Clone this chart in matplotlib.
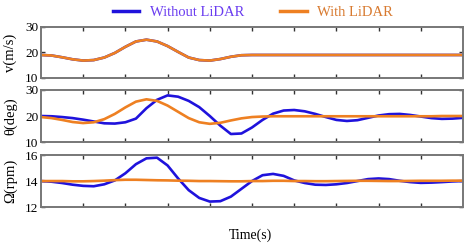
import matplotlib.pyplot as plt
import numpy as np

plt.rcParams['font.family'] = ['Liberation Serif', 'DejaVu Serif']

# time axis, sampled every 0.25 s
t = np.arange(0, 10.01, 0.25)

v_with = [19.0, 18.8, 18.1, 17.3, 16.8, 17.0, 18.0, 19.8, 22.2, 24.3, 25.0,
          24.3, 22.5, 20.2, 18.0, 17.0, 16.8, 17.4, 18.3, 18.9, 19.0,
          19.0, 19.0, 19.0, 19.0, 19.0, 19.0, 19.0, 19.0, 19.0, 19.0,
          19.0, 19.0, 19.0, 19.0, 19.0, 19.0, 19.0, 19.0, 19.0, 19.0]
v_without = v_with

theta_without = [20.0, 19.9, 19.6, 19.2, 18.6, 17.9, 17.2, 17.1, 17.6, 19.0, 23.0,
                 26.2, 27.9, 27.4, 25.8, 23.4, 20.0, 16.3, 13.1, 13.3, 15.6,
                 18.5, 20.9, 22.1, 22.3, 21.8, 20.8, 19.6, 18.5, 18.1, 18.4,
                 19.3, 20.2, 20.7, 20.8, 20.4, 19.8, 19.2, 18.9, 19.0, 19.3]
theta_with = [19.6, 19.2, 18.5, 17.7, 17.3, 17.6, 18.8, 20.8, 23.3, 25.5, 26.4,
              25.8, 24.0, 21.6, 19.2, 17.6, 17.0, 17.4, 18.3, 19.1, 19.6,
              19.8, 19.9, 19.9, 19.9, 19.9, 19.9, 19.9, 19.9, 19.9, 19.9,
              19.9, 19.9, 19.9, 19.9, 19.9, 19.9, 19.9, 20.0, 20.0, 20.0]

omega_without = [14.0, 13.95, 13.85, 13.72, 13.63, 13.6, 13.75, 14.05, 14.6, 15.3, 15.75,
                 15.8, 15.2, 14.2, 13.3, 12.7, 12.42, 12.45, 12.8, 13.4, 14.0,
                 14.45, 14.55, 14.4, 14.05, 13.85, 13.72, 13.7, 13.75, 13.85, 14.0,
                 14.15, 14.2, 14.15, 14.02, 13.92, 13.86, 13.88, 13.92, 13.97, 14.0]
omega_with = [14.0, 14.0, 14.0, 13.98, 13.98, 14.0, 14.03, 14.07, 14.1, 14.1, 14.08,
              14.06, 14.05, 14.03, 14.02, 14.0, 14.0, 13.99, 13.98, 13.98, 14.0,
              14.0, 14.02, 14.02, 14.0, 14.0, 13.99, 13.99, 14.0, 14.01, 14.02,
              14.02, 14.01, 14.0, 14.0, 14.01, 14.02, 14.02, 14.02, 14.03, 14.03]

panels = [
    ("v(m/s)", v_without, v_with, (10, 30), [10, 20, 30]),
    ("θ(deg)", theta_without, theta_with, (10, 30), [10, 20, 30]),
    ("Ω(rpm)", omega_without, omega_with, (12, 16), [12, 14, 16]),
]

blue = '#1f12dc'
orange = '#ee8022'

fig = plt.figure(figsize=(4.71, 2.45), dpi=100)
boxes = [(0.682, 0.890), (0.420, 0.633), (0.155, 0.367)]

for (label, y_wo, y_w, ylim, yt), (b, top) in zip(panels, boxes):
    ax = fig.add_axes([0.087, b, 0.896, top - b])
    ax.plot(t, y_wo, color=blue, lw=1.9)
    ax.plot(t, y_w, color=orange, lw=1.9)
    ax.set_xlim(0, 10)
    ax.set_ylim(*ylim)
    ax.set_xticks(np.arange(1, 10))
    ax.set_xticklabels([])
    ax.set_yticks(yt)
    ax.set_yticklabels([str(v) for v in yt], fontsize=9.5)
    ax.tick_params(direction='in', top=True, right=True, length=3,
                   width=1, color='#333333', pad=2)
    for s in ax.spines.values():
        s.set_color('#777777')
        s.set_linewidth(1.4)
    ax.set_ylabel(label, fontsize=10.5)
    ax.yaxis.set_label_coords(-0.057, 0.5)

handles = [plt.Line2D([], [], color=blue, lw=2.5),
           plt.Line2D([], [], color=orange, lw=2.5)]
fig.legend(handles, ["Without LiDAR", "With LiDAR"], loc='center',
           bbox_to_anchor=(0.537, 0.951), ncol=2, frameon=False, fontsize=10.5,
           handlelength=1.8, handletextpad=0.7, columnspacing=2.5,
           labelcolor=['#6a3cf0', '#d87a30'])

fig.text(0.531, 0.04, "Time(s)", ha='center', va='center', fontsize=10)

fig.savefig("out.png", dpi=100)
